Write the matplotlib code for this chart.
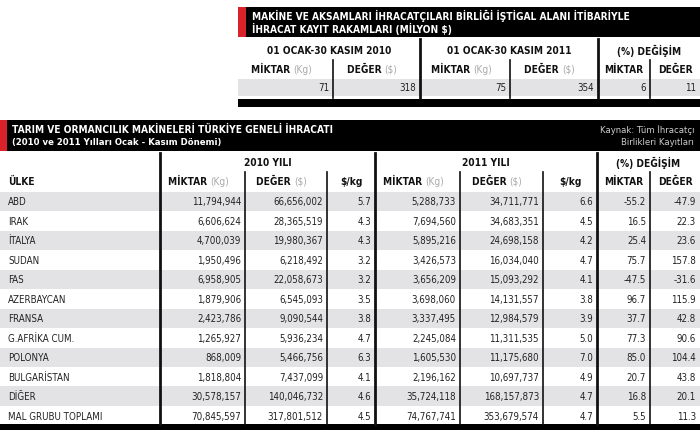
import matplotlib.pyplot as plt
from matplotlib.patches import Rectangle

plt.rcParams['font.family'] = ['DejaVu Sans']

# ---- top table data ----
top_title = ["MAKİNE VE AKSAMLARI İHRACATÇILARI BİRLİĞİ İŞTİGAL ALANI İTİBARİYLE",
             "İHRACAT KAYIT RAKAMLARI (MİLYON $)"]
top_groups = ["01 OCAK-30 KASIM 2010", "01 OCAK-30 KASIM 2011", "(%) DEĞİŞİM"]
top_values = ["71", "318", "75", "354", "6", "11"]

# ---- bottom table data ----
countries = ["ABD", "IRAK", "İTALYA", "SUDAN", "FAS", "AZERBAYCAN", "FRANSA",
             "G.AFRİKA CUM.", "POLONYA", "BULGARİSTAN", "DİĞER", "MAL GRUBU TOPLAMI"]
qty_2010 = ["11,794,944", "6,606,624", "4,700,039", "1,950,496", "6,958,905", "1,879,906",
            "2,423,786", "1,265,927", "868,009", "1,818,804", "30,578,157", "70,845,597"]
val_2010 = ["66,656,002", "28,365,519", "19,980,367", "6,218,492", "22,058,673", "6,545,093",
            "9,090,544", "5,936,234", "5,466,756", "7,437,099", "140,046,732", "317,801,512"]
ppk_2010 = ["5.7", "4.3", "4.3", "3.2", "3.2", "3.5", "3.8", "4.7", "6.3", "4.1", "4.6", "4.5"]
qty_2011 = ["5,288,733", "7,694,560", "5,895,216", "3,426,573", "3,656,209", "3,698,060",
            "3,337,495", "2,245,084", "1,605,530", "2,196,162", "35,724,118", "74,767,741"]
val_2011 = ["34,711,771", "34,683,351", "24,698,158", "16,034,040", "15,093,292", "14,131,557",
            "12,984,579", "11,311,535", "11,175,680", "10,697,737", "168,157,873", "353,679,574"]
ppk_2011 = ["6.6", "4.5", "4.2", "4.7", "4.1", "3.8", "3.9", "5.0", "7.0", "4.9", "4.7", "4.7"]
chg_qty = ["-55.2", "16.5", "25.4", "75.7", "-47.5", "96.7", "37.7", "77.3", "85.0", "20.7", "16.8", "5.5"]
chg_val = ["-47.9", "22.3", "23.6", "157.8", "-31.6", "115.9", "42.8", "90.6", "104.4", "43.8", "20.1", "11.3"]

fig = plt.figure(figsize=(7, 4.31), dpi=100)
ax = fig.add_axes([0, 0, 1, 1])
ax.set_xlim(0, 700)
ax.set_ylim(431, 0)
ax.axis("off")

GRAY = "#e3e3e5"
RED = "#d9222a"
HDR = dict(fontsize=7.3, fontweight="bold", fontstretch="condensed", color="#111111")
CELL = dict(fontsize=7, fontstretch="condensed", color="#222222")


def rect(x0, y0, x1, y1, c):
    ax.add_patch(Rectangle((x0, y0), x1 - x0, y1 - y0, color=c, lw=0))


def vline(x, y0, y1, lw=1):
    ax.plot([x, x], [y0, y1], color="#111111", lw=lw)


def unit_label(x, y, main, unit):
    t = ax.text(x, y, main + " ", ha="right", va="center", **HDR)
    ax.text(x, y, unit, ha="left", va="center", fontsize=7.3, fontstretch="condensed",
            color="#aaaaaa")


# ===== top table =====
rect(238, 8, 700, 38, "black")
rect(238, 8, 246, 38, RED)
ax.text(252, 16, top_title[0], color="white", fontsize=7.3, fontweight="bold",
        fontstretch="condensed", va="center")
ax.text(252, 29, top_title[1], color="white", fontsize=7.3, fontweight="bold",
        fontstretch="condensed", va="center")
rect(238, 80, 700, 97, GRAY)
rect(238, 100, 700, 108, "black")
tx = [238, 333, 420, 510, 598, 650, 700]
for gx0, gx1, g in zip([238, 420, 598], [420, 598, 700], top_groups):
    ax.text((gx0 + gx1) / 2, 51, g, ha="center", va="center", **HDR)
for x in [420, 598]:
    vline(x, 40, 99, 2)
for x in [333, 510, 650]:
    vline(x, 61, 99, 1.2)
subs = [("MİKTAR", "(Kg)"), ("DEĞER", "($)"), ("MİKTAR", "(Kg)"), ("DEĞER", "($)"),
        ("MİKTAR", None), ("DEĞER", None)]
for i, (m, u) in enumerate(subs):
    cx = (tx[i] + tx[i + 1]) / 2
    if u:
        unit_label(cx + 8, 70, m, u)
    else:
        ax.text(cx, 70, m, ha="center", va="center", **HDR)
    ax.text(tx[i + 1] - 4, 88, top_values[i], ha="right", va="center", **CELL)

# ===== bottom table =====
rect(0, 121, 700, 152, "black")
rect(0, 121, 7, 152, RED)
ax.text(12, 130, "TARIM VE ORMANCILIK MAKİNELERİ TÜRKİYE GENELİ İHRACATI", color="white",
        fontsize=7.3, fontweight="bold", fontstretch="condensed", va="center")
ax.text(12, 143, "(2010 ve 2011 Yılları Ocak - Kasım Dönemi)", color="white",
        fontsize=6.8, fontweight="bold", fontstretch="condensed", va="center")
ax.text(694, 130, "Kaynak: Tüm İhracatçı", color="#cccccc", fontsize=6.8,
        fontstretch="condensed", va="center", ha="right")
ax.text(694, 143, "Birlikleri Kayıtları", color="#cccccc", fontsize=6.8,
        fontstretch="condensed", va="center", ha="right")

bx = [0, 160, 245, 327, 375, 460, 543, 597, 650, 700]
for gx0, gx1, g in zip([160, 375, 597], [375, 597, 700], ["2010 YILI", "2011 YILI", "(%) DEĞİŞİM"]):
    ax.text((gx0 + gx1) / 2, 163, g, ha="center", va="center", **HDR)
ax.text(8, 182, "ÜLKE", ha="left", va="center", **HDR)
bsubs = [("MİKTAR", "(Kg)"), ("DEĞER", "($)"), ("$/kg", None), ("MİKTAR", "(Kg)"),
         ("DEĞER", "($)"), ("$/kg", None), ("MİKTAR", None), ("DEĞER", None)]
for i, (m, u) in enumerate(bsubs):
    cx = (bx[i + 1] + bx[i + 2]) / 2
    if u:
        unit_label(cx + 8, 182, m, u)
    else:
        ax.text(cx, 182, m, ha="center", va="center", **HDR)

row_h = 19.5
y0 = 192.5
cols = [qty_2010, val_2010, ppk_2010, qty_2011, val_2011, ppk_2011, chg_qty, chg_val]
for r, name in enumerate(countries):
    top = y0 + r * row_h
    if r % 2 == 0:
        rect(0, top, 700, top + row_h, GRAY)
    yc = top + row_h / 2
    ax.text(8, yc, name, ha="left", va="center", **CELL)
    for c, col in enumerate(cols):
        ax.text(bx[c + 2] - 4, yc, col[r], ha="right", va="center", **CELL)
rect(0, 425, 700, 431, "black")

for x in [160, 375, 597]:
    vline(x, 154, 425, 2)
for x in [245, 327, 460, 543, 650]:
    vline(x, 173, 425, 1.2)

fig.savefig("out.png", dpi=100)
